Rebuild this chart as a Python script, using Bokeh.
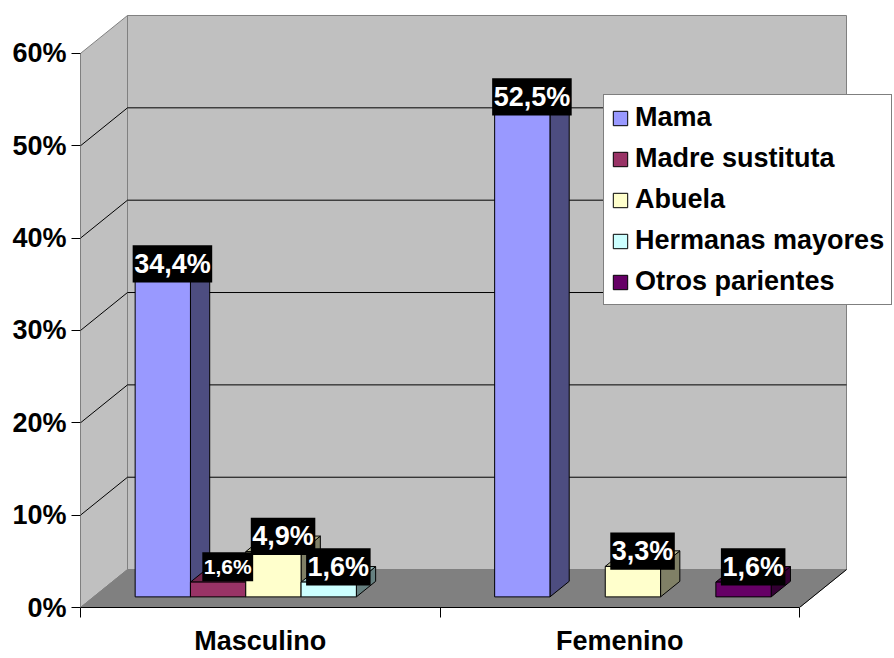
from bokeh.plotting import figure
from bokeh.models import (Range1d, FixedTicker, PrintfTickFormatter, Legend, LegendItem,
                          ColumnDataSource)
from bokeh.core.properties import value
from bokeh.embed import file_html
from bokeh.resources import INLINE

# ---------------- data ----------------
categories = ["Masculino", "Femenino"]
series_names = ["Mama", "Madre sustituta", "Abuela", "Hermanas mayores", "Otros parientes"]
mama = [34.4, 52.5]
madre_sustituta = [1.6, 0.0]
abuela = [4.9, 3.3]
hermanas_mayores = [1.6, 0.0]
otros_parientes = [0.0, 1.6]
y_ticks = [0, 10, 20, 30, 40, 50, 60]

series_values = [mama, madre_sustituta, abuela, hermanas_mayores, otros_parientes]

# ---------------- styles ----------------
front_colors = ["#9999FF", "#993366", "#FFFFCC", "#CCFFFF", "#660066"]
side_colors = ["#4D4D80", "#4D1A33", "#808066", "#668080", "#330033"]
top_colors = ["#7373BF", "#73264D", "#BFBF99", "#99BFBF", "#4D004D"]
FONT = "Liberation Sans"

# 3D projection parameters (data units)
Y_MAX = 60.0
PX_X = 359.5         # pixels per category unit
PX_Y = 9.25          # pixels per percent
DX = 47 / PX_X       # full depth offset in x (category units)
DY = 38 / PX_Y       # full depth offset in y (percent units)
F_D = 0.28           # depth fraction of bar front face
B_D = 0.41           # depth fraction of bar thickness
W = 1 / 6.5          # bar width (gap width 150 %)

p = figure(width=894, height=658, output_backend="svg", toolbar_location=None,
           x_range=Range1d(0, 814 / PX_X), y_range=Range1d(0, 594 / PX_Y),
           min_border_left=80, min_border_right=0, min_border_top=14, min_border_bottom=50,
           background_fill_color="white", border_fill_color="white")
p.outline_line_color = None
p.xgrid.visible = False
p.ygrid.visible = False

n_cat = len(categories)
# walls and floor
p.patch([0, DX, DX, 0], [0, DY, Y_MAX + DY, Y_MAX], fill_color="#C0C0C0", line_color="#808080")
p.patch([DX, n_cat + DX, n_cat + DX, DX], [DY, DY, Y_MAX + DY, Y_MAX + DY],
        fill_color="#C0C0C0", line_color="#808080")
p.patch([0, n_cat, n_cat + DX, DX], [0, 0, DY, DY], fill_color="#808080", line_color="#808080")
p.line([n_cat, n_cat + DX], [0, DY], line_color="black", line_width=1)
# gridlines
grid_vals = [t for t in y_ticks if 0 < t < Y_MAX]
p.segment(x0=[DX] * len(grid_vals), y0=[g + DY for g in grid_vals],
          x1=[n_cat + DX] * len(grid_vals), y1=[g + DY for g in grid_vals],
          line_color="black", line_width=1)
p.segment(x0=[0] * len(grid_vals), y0=grid_vals,
          x1=[DX] * len(grid_vals), y1=[g + DY for g in grid_vals],
          line_color="black", line_width=1)

fdx, fdy = F_D * DX, F_D * DY
bdx, bdy = B_D * DX, B_D * DY

legend_items = []
label_x, label_y, label_txt, label_fs, label_w, label_h = [], [], [], [], [], []
char_w = {",": 0.278, "%": 0.889}
for i, (name, vals) in enumerate(zip(series_names, series_values)):
    x0s, x1s, y0s, y1s = [], [], [], []
    side_xs, side_ys, top_xs, top_ys = [], [], [], []
    for j, v in enumerate(vals):
        if v <= 0:
            continue
        x0 = j + 0.75 * W + i * W + fdx
        x1 = x0 + W
        y0 = fdy
        y1 = v + fdy
        x0s.append(x0); x1s.append(x1); y0s.append(y0); y1s.append(y1)
        side_xs.append([x1, x1, x1 + bdx, x1 + bdx]); side_ys.append([y0, y1, y1 + bdy, y0 + bdy])
        top_xs.append([x0, x1, x1 + bdx, x0 + bdx]); top_ys.append([y1, y1, y1 + bdy, y1 + bdy])
        txt = f"{v:.1f}".replace(".", ",") + "%"
        fs = 21 if (i == 1 and j == 0) else 27
        label_x.append((x0 + x1 + bdx) / 2)
        label_y.append(y1 + bdy / 2 + 7.5 / PX_Y)
        label_txt.append(txt)
        label_fs.append(f"{fs}px")
        label_w.append(sum(char_w.get(c, 0.556) for c in txt) * fs + 3)
        label_h.append(fs * 1.38)
    if side_xs:
        p.patches(side_xs, side_ys, fill_color=side_colors[i], line_color="black", line_width=1)
        p.patches(top_xs, top_ys, fill_color=top_colors[i], line_color="black", line_width=1)
    r = p.quad(left=x0s, right=x1s, bottom=y0s, top=y1s,
               fill_color=front_colors[i], line_color="black", line_width=1)
    legend_items.append(LegendItem(label=name, renderers=[r]))

lab_src = ColumnDataSource(dict(x=label_x, y=label_y, text=label_txt, fs=label_fs,
                                w=label_w, h=label_h))
p.rect(x="x", y="y", width="w", height="h", width_units="screen", height_units="screen",
       source=lab_src, fill_color="black", line_color=None)
p.text(x="x", y="y", text="text", source=lab_src, text_color="white",
       text_font=value(FONT), text_font_style="bold", text_font_size="fs",
       text_align="center", text_baseline="middle")

# axes
ya = p.yaxis[0]
ya.ticker = FixedTicker(ticks=y_ticks)
ya.formatter = PrintfTickFormatter(format="%d%%")
ya.bounds = (0, Y_MAX)
ya.axis_line_color = "#808080"
ya.major_tick_out = 9
ya.major_tick_in = 0
ya.major_tick_line_color = "black"
ya.minor_tick_line_color = None
ya.major_label_standoff = 5
ya.major_label_text_font = FONT
ya.major_label_text_font_style = "bold"
ya.major_label_text_font_size = "27px"
ya.major_label_text_color = "black"

xa = p.xaxis[0]
xa.ticker = FixedTicker(ticks=[0.5 + k for k in range(n_cat)], minor_ticks=list(range(n_cat + 1)))
xa.major_label_overrides = {0.5 + k: c for k, c in enumerate(categories)}
xa.bounds = (0, n_cat)
xa.axis_line_color = "black"
xa.major_tick_out = 0
xa.major_tick_in = 0
xa.major_tick_line_color = None
xa.minor_tick_out = 10
xa.minor_tick_in = 0
xa.minor_tick_line_color = "black"
xa.major_label_standoff = 8
xa.major_label_text_font = FONT
xa.major_label_text_font_style = "bold"
xa.major_label_text_font_size = "27px"
xa.major_label_text_color = "black"

legend = Legend(items=legend_items, location=(523, 302))
legend.label_text_font = FONT
legend.label_text_font_style = "bold"
legend.label_text_font_size = "27px"
legend.label_text_color = "black"
legend.glyph_width = 18
legend.glyph_height = 18
legend.label_standoff = 6
legend.padding = 7
legend.spacing = 10
legend.margin = 0
legend.border_line_color = "black"
legend.border_line_width = 1
legend.background_fill_color = "white"
legend.background_fill_alpha = 1.0
p.add_layout(legend)

open("out.html", "w").write(file_html(p, INLINE))
